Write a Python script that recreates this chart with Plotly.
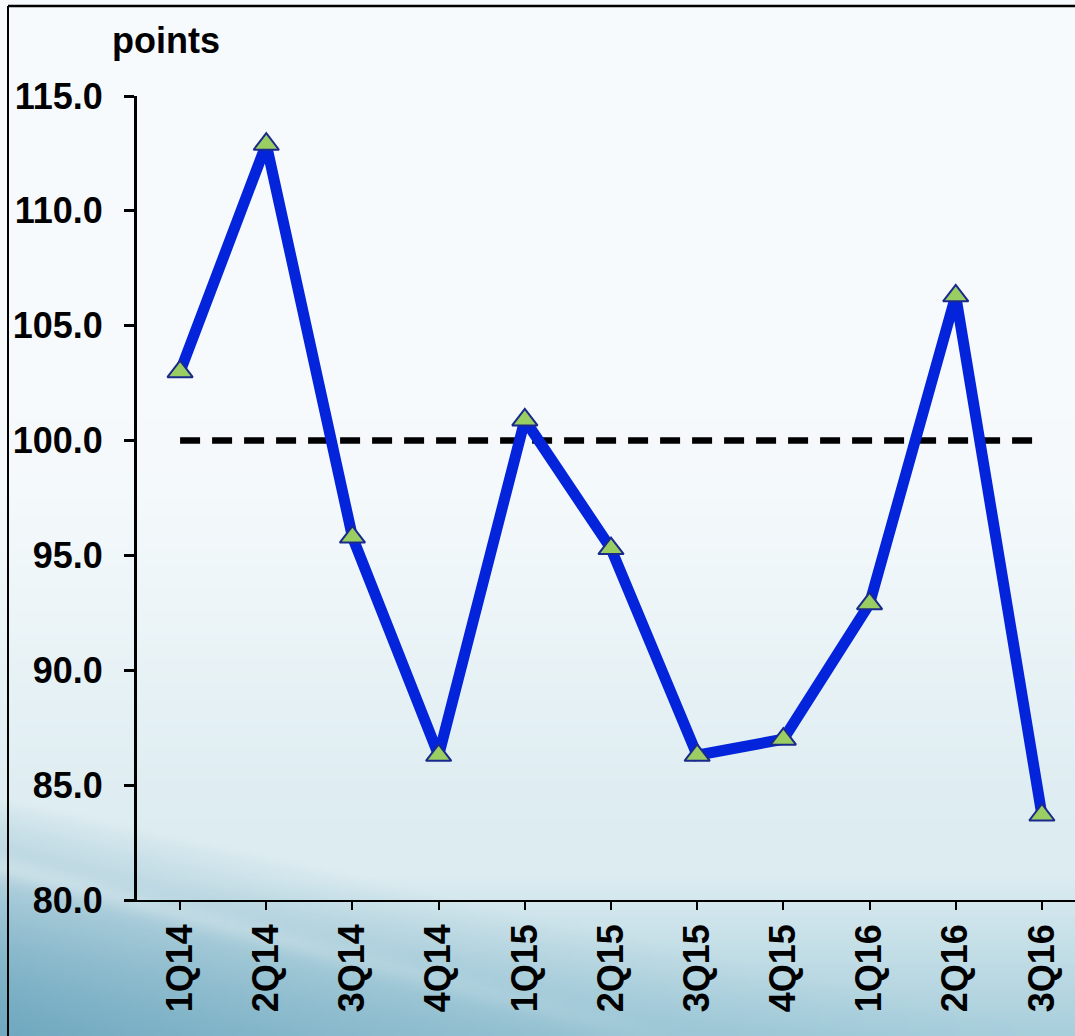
import base64
import struct
import zlib

import numpy as np
import plotly.graph_objects as go

# ---- data -------------------------------------------------------------
quarters = ["1Q14", "2Q14", "3Q14", "4Q14", "1Q15", "2Q15",
            "3Q15", "4Q15", "1Q16", "2Q16", "3Q16"]
index_points = [103.0, 112.9, 95.8, 86.3, 100.9, 95.3,
                86.3, 87.0, 92.9, 106.3, 83.7]
baseline = [100.0] * len(quarters)
y_ticks = [80, 85, 90, 95, 100, 105, 110, 115]

W, H = 1075, 1036
ML, MR, MT, MB = 137, 0, 96, 136


# ---- slide-style background (soft teal gradient with a swoosh) -------
def png_data_uri(rgb):
    h, w, _ = rgb.shape
    raw = b"".join(b"\x00" + rgb[i].tobytes() for i in range(h))

    def chunk(tag, data):
        c = struct.pack(">I", len(data)) + tag + data
        return c + struct.pack(">I", zlib.crc32(tag + data) & 0xFFFFFFFF)

    png = (b"\x89PNG\r\n\x1a\n"
           + chunk(b"IHDR", struct.pack(">IIBBBBB", w, h, 8, 2, 0, 0, 0))
           + chunk(b"IDAT", zlib.compress(raw, 9))
           + chunk(b"IEND", b""))
    return "data:image/png;base64," + base64.b64encode(png).decode()


def background(w=269, h=259):
    xs = np.linspace(0, W, w)[None, :]
    ys = np.linspace(0, H, h)[:, None]
    top = np.array([246, 250, 252], float)
    mid = np.array([220, 236, 241], float)
    low = np.array([168, 207, 220], float)
    dark = np.array([108, 166, 190], float)

    t1 = np.clip((ys - 420) / 480, 0, 1)
    t1 = t1 * t1 * (3 - 2 * t1)
    t2 = np.clip((ys - 880) / 156, 0, 1)
    col = top + (mid - top) * t1[..., None]
    col = col + (low - mid) * t2[..., None]
    col = np.broadcast_to(col, (h, w, 3)).copy()

    # darker wash toward the lower-left corner
    yc = 800 + 0.22 * xs
    d = np.clip((ys - yc) / 260, 0, 1) ** 0.8 * np.clip(1 - xs / 1400, 0, 1)
    col = col + (dark - col) * d[..., None]

    # light swoosh streak
    ysw = 868 + 0.26 * xs
    s = np.exp(-((ys - ysw) / 12.0) ** 2) * np.clip(1 - xs / 800, 0, 1) * 0.28
    col = col + (255 - col) * s[..., None]
    return np.clip(col, 0, 255).astype(np.uint8)


bg_uri = png_data_uri(background())

# ---- figure -----------------------------------------------------------
fig = go.Figure()

fig.add_trace(go.Scatter(
    x=quarters, y=baseline, mode="lines",
    line=dict(color="black", width=6.5, dash="20px,12px"),
    hoverinfo="skip", showlegend=False,
))

fig.add_trace(go.Scatter(
    x=quarters, y=index_points, mode="lines+markers",
    line=dict(color="#0424dc", width=11),
    marker=dict(symbol="triangle-up", size=22, color="#9acd62",
                line=dict(color="#1a2a8c", width=2)),
    showlegend=False,
))

pw = W - ML - MR
ph = H - MT - MB


def px_x(p):
    return (p - ML) / pw


def px_y(p):
    return (H - MB - p) / ph


bold = dict(family="Liberation Sans, Arial, sans-serif", size=36,
            color="black", weight="bold")

fig.update_layout(
    width=W, height=H,
    margin=dict(l=ML, r=MR, t=MT, b=MB, pad=0),
    paper_bgcolor="rgba(0,0,0,0)",
    plot_bgcolor="rgba(0,0,0,0)",
    images=[dict(source=bg_uri, xref="paper", yref="paper",
                 x=px_x(0), y=px_y(0), sizex=W / pw, sizey=H / ph,
                 xanchor="left", yanchor="top", sizing="stretch",
                 layer="below")],
    xaxis=dict(
        type="category", range=[-0.5, 10.5 - 10 / 86.2],
        showgrid=False, zeroline=False,
        showline=True, linecolor="black", linewidth=1.5,
        ticks="outside", ticklen=8, tickwidth=1.5, tickcolor="black",
        tickangle=-90, tickfont=bold, ticklabelstandoff=0,
    ),
    yaxis=dict(
        range=[80, 115], tickvals=y_ticks, tickformat=".1f",
        showgrid=False, zeroline=False,
        showline=True, linecolor="black", linewidth=3,
        ticks="outside", ticklen=10, tickwidth=2.5, tickcolor="black",
        tickfont=bold, ticklabelstandoff=14,
    ),
    annotations=[dict(
        text="points", xref="paper", yref="paper",
        x=px_x(110), y=px_y(40), xanchor="left", yanchor="middle",
        showarrow=False, font=bold,
    )],
    shapes=[
        dict(type="line", xref="paper", yref="paper",
             x0=px_x(8), x1=px_x(W + 5), y0=px_y(6), y1=px_y(6),
             line=dict(color="black", width=2.5), layer="above"),
        dict(type="line", xref="paper", yref="paper",
             x0=px_x(8), x1=px_x(8), y0=px_y(6), y1=px_y(H + 5),
             line=dict(color="black", width=2), layer="above"),
    ],
)

fig.write_html("out.html")
